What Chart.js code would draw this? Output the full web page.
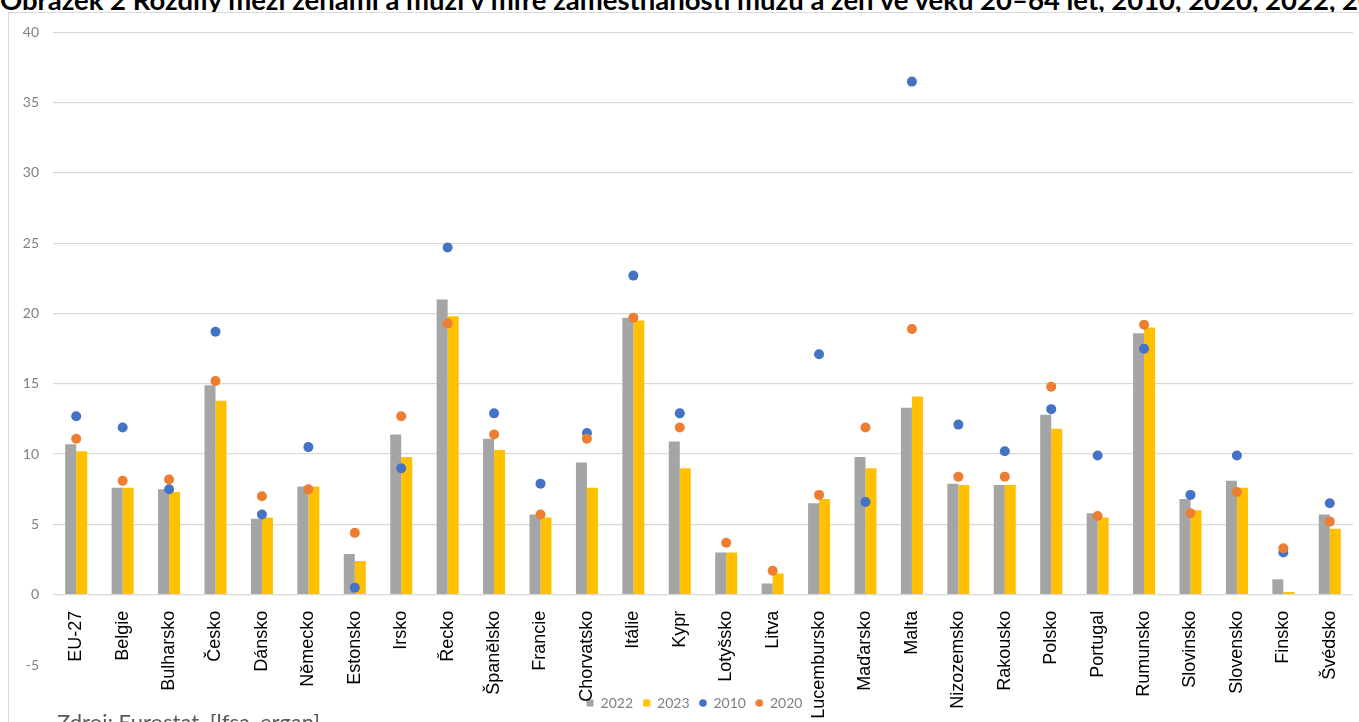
<!DOCTYPE html>
<html lang="cs">
<head>
<meta charset="utf-8">
<title>Rozdíly mezi ženami a muži v míře zaměstnanosti</title>
<script src="https://cdn.jsdelivr.net/npm/chart.js@4.4.1/dist/chart.umd.min.js"></script>
<style>
  html, body { margin: 0; padding: 0; background: #ffffff; }
  body { width: 1359px; height: 722px; overflow: hidden; position: relative; }
  #title { position: absolute; left: 0; top: -17px; white-space: nowrap; font-family: Lato, "Open Sans", sans-serif; font-weight: bold; font-size: 27.5px; line-height: 33px; color: #000; }
  #frame { position: absolute; left: 8px; top: 12px; width: 1400px; height: 800px; border-left: 1px solid #d9d9d9; border-top: 1px solid #d9d9d9; background: #fff; }
  #wrap { position: absolute; left: 9px; top: 10px; width: 1371px; height: 712px; }
  #footer { position: absolute; left: 57px; top: 709px; white-space: nowrap; font-family: Lato, "Open Sans", sans-serif; font-size: 22px; line-height: 26px; color: #595959; }
</style>
</head>
<body>
<div id="title">Obrázek 2 Rozdíly mezi ženami a muži v míře zaměstnanosti mužů a žen ve věku 20–64 let, 2010, 2020, 2022, 2023</div>
<div id="frame"></div>
<div id="wrap"><canvas id="chart" width="1371" height="712"></canvas></div>
<div id="footer">Zdroj: Eurostat, [lfsa_ergan]</div>
<script>
const categories = ['EU-27','Belgie','Bulharsko','Česko','Dánsko','Německo','Estonsko','Irsko','Řecko','Španělsko','Francie','Chorvatsko','Itálie','Kypr','Lotyšsko','Litva','Lucembursko','Maďarsko','Malta','Nizozemsko','Rakousko','Polsko','Portugal','Rumunsko','Slovinsko','Slovensko','Finsko','Švédsko'];

const values2022 = [10.7, 7.6, 7.5, 14.9, 5.4, 7.7, 2.9, 11.4, 21.0, 11.1, 5.7, 9.4, 19.7, 10.9, 3.0, 0.8, 6.5, 9.8, 13.3, 7.9, 7.8, 12.8, 5.8, 18.6, 6.8, 8.1, 1.1, 5.7];
const values2023 = [10.2, 7.6, 7.3, 13.8, 5.5, 7.7, 2.4, 9.8, 19.8, 10.3, 5.5, 7.6, 19.5, 9.0, 3.0, 1.5, 6.8, 9.0, 14.1, 7.8, 7.8, 11.8, 5.5, 19.0, 6.0, 7.6, 0.2, 4.7];
const values2010 = [12.7, 11.9, 7.5, 18.7, 5.7, 10.5, 0.5, 9.0, 24.7, 12.9, 7.9, 11.5, 22.7, 12.9, null, null, 17.1, 6.6, 36.5, 12.1, 10.2, 13.2, 9.9, 17.5, 7.1, 9.9, 3.0, 6.5];
const values2020 = [11.1, 8.1, 8.2, 15.2, 7.0, 7.5, 4.4, 12.7, 19.3, 11.4, 5.7, 11.1, 19.7, 11.9, 3.7, 1.7, 7.1, 11.9, 18.9, 8.4, 8.4, 14.8, 5.6, 19.2, 5.8, 7.3, 3.3, 5.2];

const seriesLabels = ['2022', '2023', '2010', '2020'];
const yMin = -5, yMax = 40, yStep = 5;

const COLORS = { g: '#A5A5A5', y: '#FFC000', b: '#4472C4', o: '#ED7D31' };

function legendIcon(kind, color) {
  const c = document.createElement('canvas');
  c.width = 8; c.height = 8;
  const x = c.getContext('2d');
  x.fillStyle = color;
  if (kind === 'rect') { x.fillRect(0.5, 0.5, 7, 7); }
  else { x.beginPath(); x.arc(4, 4, 3.8, 0, Math.PI * 2); x.fill(); }
  return c;
}
const icons = [legendIcon('rect', COLORS.g), legendIcon('rect', COLORS.y), legendIcon('circle', COLORS.b), legendIcon('circle', COLORS.o)];

new Chart(document.getElementById('chart'), {
  type: 'bar',
  data: {
    labels: categories,
    datasets: [
      { type: 'bar', label: seriesLabels[0], data: values2022, backgroundColor: COLORS.g, borderWidth: 0, order: 2, categoryPercentage: 0.474, barPercentage: 1 },
      { type: 'bar', label: seriesLabels[1], data: values2023, backgroundColor: COLORS.y, borderWidth: 0, order: 2, categoryPercentage: 0.474, barPercentage: 1 },
      { type: 'line', label: seriesLabels[2], data: values2010, showLine: false, backgroundColor: COLORS.b, borderColor: COLORS.b, pointBackgroundColor: COLORS.b, pointBorderColor: COLORS.b, pointBorderWidth: 0, pointRadius: 5, pointHoverRadius: 5, order: 1 },
      { type: 'line', label: seriesLabels[3], data: values2020, showLine: false, backgroundColor: COLORS.o, borderColor: COLORS.o, pointBackgroundColor: COLORS.o, pointBorderColor: COLORS.o, pointBorderWidth: 0, pointRadius: 5, pointHoverRadius: 5, order: 0 }
    ]
  },
  options: {
    responsive: false,
    animation: false,
    events: [],
    layout: { padding: { left: 0, right: 0, top: 16, bottom: 2 } },
    scales: {
      x: {
        position: { y: 0 },
        offset: true,
        grid: { display: false },
        border: { display: false },
        ticks: {
          autoSkip: false, minRotation: 90, maxRotation: 90, padding: 8,
          color: '#000000', font: { family: '"Liberation Sans", Arial, sans-serif', size: 18 }
        }
      },
      y: {
        min: yMin, max: yMax,
        afterFit: (s) => { s.width = 44; },
        border: { display: false },
        grid: {
          drawTicks: false,
          lineWidth: 1.3,
          color: (ctx) => (ctx.tick && ctx.tick.value === yMin) ? 'rgba(0,0,0,0)' : '#d9d9d9'
        },
        ticks: {
          stepSize: yStep, padding: 14, color: '#808080',
          font: { family: 'Lato, "Open Sans", sans-serif', size: 14 }
        }
      },
      yRight: {
        position: 'right',
        display: true,
        afterFit: (s) => { s.width = 27; },
        grid: { display: false },
        border: { display: false },
        ticks: { display: false }
      }
    },
    plugins: {
      tooltip: { enabled: false },
      legend: {
        position: 'bottom',
        align: 'center',
        title: { display: true, text: ' ', padding: { top: 9, bottom: 0 }, font: { size: 10 } },
        labels: {
          usePointStyle: true, boxWidth: 7, boxHeight: 7, padding: 10,
          color: '#7f7f7f', font: { family: 'Lato, "Open Sans", sans-serif', size: 14 },
          sort: (a, b) => a.datasetIndex - b.datasetIndex,
          generateLabels: (chart) => {
            const items = Chart.defaults.plugins.legend.labels.generateLabels(chart);
            items.forEach(it => { it.pointStyle = icons[it.datasetIndex]; it.lineWidth = 0; });
            return items;
          }
        }
      }
    }
  }
});
</script>
</body>
</html>
